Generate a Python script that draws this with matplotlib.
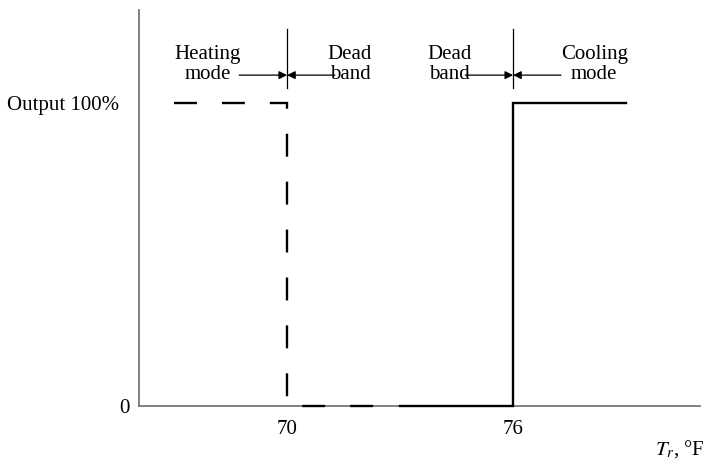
import matplotlib.pyplot as plt
import matplotlib.transforms as mtransforms

plt.rcParams['font.family'] = ['Liberation Serif', 'DejaVu Serif']
plt.rcParams['mathtext.fontset'] = 'stix'
plt.rcParams['lines.scale_dashes'] = False

# controller output vs room temperature
heat_x = [67, 70, 70, 72.5]
heat_y = [100, 100, 0, 0]
cool_x = [73, 76, 76, 79]
cool_y = [0, 0, 100, 100]

xticks = [70, 76]
yticks = [0, 100]
ytick_labels = ["0", "Output 100%"]

# switch points and the labels on each side
switch_x = [70, 76]
left_labels = ["Heating\nmode", "Dead\nband"]
right_labels = ["Dead\nband", "Cooling\nmode"]
left_label_x = [67.9, 74.3]
right_label_x = [71.67, 78.15]

fs = 15

fig = plt.figure(figsize=(7.07, 4.66), dpi=100)
ax = fig.add_axes([0.1966, 0.1288, 0.7935, 0.8498])

ax.plot(heat_x, heat_y, color='black', lw=1.7, dashes=(16.5, 18), solid_joinstyle='miter',
        dash_joinstyle='miter', zorder=3, clip_on=False)
ax.plot(cool_x, cool_y, color='black', lw=1.7, solid_joinstyle='miter', zorder=3, clip_on=False)

arrow_y = 109.2
for sx, ll, rl, lx, rx in zip(switch_x, left_labels, right_labels, left_label_x, right_label_x):
    ax.plot([sx, sx], [105, 124.4], color='black', lw=0.9)
    ax.annotate('', xy=(sx, arrow_y), xytext=(sx - 1.27, arrow_y),
                arrowprops=dict(arrowstyle='-|>', lw=0.9, color='black', mutation_scale=12, shrinkA=0, shrinkB=0))
    ax.annotate('', xy=(sx, arrow_y), xytext=(sx + 1.27, arrow_y),
                arrowprops=dict(arrowstyle='-|>', lw=0.9, color='black', mutation_scale=12, shrinkA=0, shrinkB=0))
    ax.text(lx, 112.6, ll, ha='center', va='center', fontsize=fs, linespacing=1.05)
    ax.text(rx, 112.6, rl, ha='center', va='center', fontsize=fs, linespacing=1.05)

ax.set_xlim(66.07, 80.96)
ax.set_ylim(0, 130.7)
ax.set_xticks(xticks)
ax.set_xticklabels([str(t) for t in xticks])
ax.set_yticks(yticks)
ax.set_yticklabels(ytick_labels)
ax.tick_params(length=0, labelsize=fs)
ax.tick_params(axis='x', pad=10)
ax.tick_params(axis='y', pad=7)

# the 100% label sits a little further from the axis than the 0
lab = ax.get_yticklabels()[1]
lab.set_transform(lab.get_transform() + mtransforms.ScaledTranslation(-7 / 72, 0, fig.dpi_scale_trans))

for side in ['top', 'right']:
    ax.spines[side].set_visible(False)
for side in ['left', 'bottom']:
    ax.spines[side].set_color('#777777')
    ax.spines[side].set_linewidth(1.3)

fig.text(0.997, 0.037, r"$T_r$, °F", ha='right', va='center', fontsize=fs)

plt.savefig('out.png')
